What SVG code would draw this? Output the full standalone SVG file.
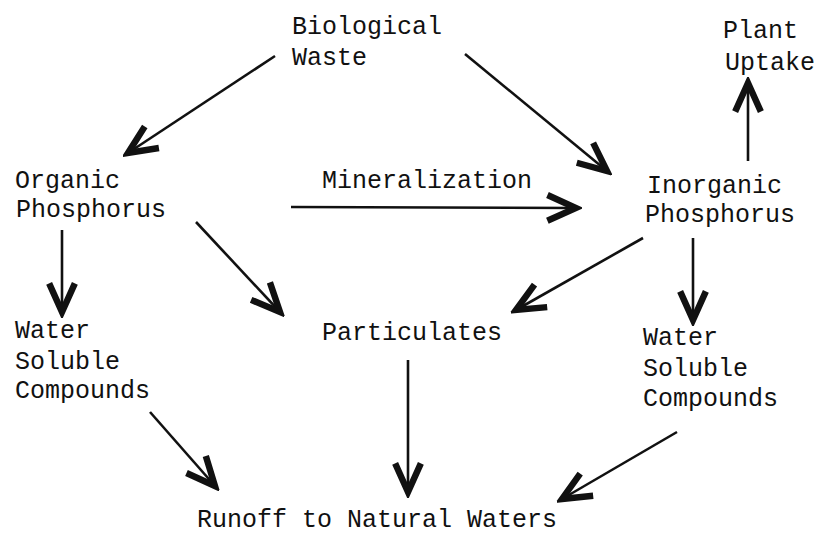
<svg xmlns="http://www.w3.org/2000/svg" width="817" height="547" viewBox="0 0 817 547">
<style>
text{font-family:"Liberation Mono","DejaVu Sans Mono",monospace;font-size:25px;fill:#111}
.c line{stroke:#111;stroke-width:2.6;marker-end:url(#ah)}
</style>
<defs>
<marker id="ah" markerUnits="userSpaceOnUse" markerWidth="40" markerHeight="40" viewBox="-24 -12 28 24" refX="0" refY="0" orient="auto">
<path d="M-20,-9 L0,0 L-20,9" fill="none" stroke="#111" stroke-width="4.5" stroke-linejoin="miter" stroke-linecap="butt"/>
</marker>
</defs>
<rect width="817" height="547" fill="#fff"/>
<g id="biological-waste"><text x="292" y="34">Biological</text><text x="292" y="65">Waste</text></g>
<g id="plant-uptake"><text x="723" y="38">Plant</text><text x="725" y="70">Uptake</text></g>
<g id="organic-phosphorus"><text x="15" y="188">Organic</text><text x="16" y="217">Phosphorus</text></g>
<g id="mineralization"><text x="322" y="188">Mineralization</text></g>
<g id="inorganic-phosphorus"><text x="647" y="193">Inorganic</text><text x="645" y="222">Phosphorus</text></g>
<g id="water-soluble-left"><text x="15" y="338">Water</text><text x="15" y="369">Soluble</text><text x="15" y="398">Compounds</text></g>
<g id="particulates"><text x="322" y="340">Particulates</text></g>
<g id="water-soluble-right"><text x="643" y="345">Water</text><text x="643" y="376">Soluble</text><text x="643" y="406">Compounds</text></g>
<g id="runoff"><text x="197" y="527">Runoff to Natural Waters</text></g>
<g class="c" id="connectors">
<line x1="275" y1="56" x2="128" y2="153"/>
<line x1="465" y1="54" x2="607" y2="171"/>
<line x1="291" y1="207" x2="576" y2="208"/>
<line x1="748" y1="161" x2="748" y2="83"/>
<line x1="62" y1="230" x2="62" y2="312"/>
<line x1="196" y1="222" x2="280" y2="312"/>
<line x1="643" y1="238" x2="516" y2="310"/>
<line x1="693" y1="238" x2="693" y2="320"/>
<line x1="150" y1="412" x2="215" y2="486"/>
<line x1="408" y1="360" x2="408" y2="492"/>
<line x1="677" y1="432" x2="562" y2="499"/>
</g>
</svg>
